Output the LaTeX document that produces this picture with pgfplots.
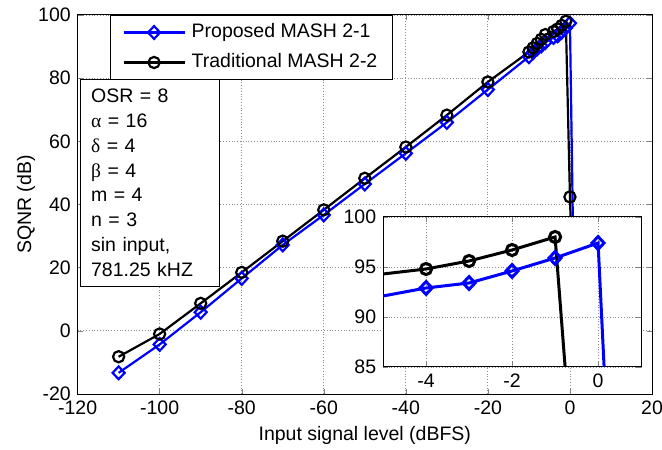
\documentclass[border=0pt]{standalone}
\usepackage{pgfplots}
\usepackage{pgfplotstable}
\pgfplotsset{compat=1.18}
\usepackage{fontspec}
\setmainfont{Liberation Sans}
\newfontfamily\greekfont{Liberation Serif}
\newcommand\fsz{\fontsize{9.75}{11.7}\selectfont}

\pgfplotstableread{
x y
-110 -13.3
-100 -4.3
-90 5.9
-80 16.6
-70 27.2
-60 36.7
-50 46.5
-40 56.2
-30 66.0
-20 76.4
-10 86.8
-9 88.1
-8 89.3
-7 90.2
-6 91.3
-4 92.9
-3 93.4
-2 94.6
-1 95.9
0 97.4
1 9.0
}\proposed

\pgfplotstableread{
x y
-110 -8.2
-100 -1.0
-90 8.7
-80 18.5
-70 28.4
-60 38.3
-50 48.3
-40 58.2
-30 68.3
-20 78.8
-10 88.3
-9 89.6
-8 91.0
-7 92.3
-6 93.8
-4 94.8
-3 95.6
-2 96.7
-1 98.0
0 42.4
1 0.0
}\traditional

\begin{document}
\fsz
\begin{tikzpicture}[font=\fsz]
\useasboundingbox (-38.8pt,-27.5pt) rectangle (292.2pt,197pt);
\pgfplotsset{
  common/.style={
    scale only axis,
    tick align=inside,
    tick pos=both,
    major tick length=2.5pt,
    grid=major,
    major grid style={densely dotted, black!45, line width=0.4pt},
    axis line style={line width=0.5pt},
    /pgf/number format/assume math mode=true,
    tick label style={font=\fsz},
    label style={font=\fsz},
    axis background/.style={fill=white},
  },
  propstyle/.style={blue, line width=#1, mark=diamond, mark size=3.2pt, mark options={solid, line width=#1, xscale=1.25}},
  tradstyle/.style={black, line width=#1, mark=o, mark size=2.8pt, mark options={solid, line width=#1}},
}
\begin{axis}[common,
  at={(0pt,0pt)}, anchor=south west,
  width=287.2pt, height=189.5pt,
  xmin=-120, xmax=20, ymin=-20, ymax=100,
  xtick={-120,-100,...,20}, ytick={-20,0,...,100},
  xlabel={Input signal level (dBFS)},
  ylabel={SQNR (dB)},
  xlabel style={at={(axis description cs:0.5,-0.1214)}, anchor=base},
  ylabel style={at={(axis description cs:-0.0898,0.5)}, anchor=center, rotate=0},
  legend cell align=left,
  legend image code/.code={
    \path (0pt,0pt) (32pt,0pt);
    \draw[mark repeat=2,mark phase=2,#1] plot coordinates {(1.5pt,0pt) (16.75pt,0pt) (32pt,0pt)};},
  legend style={at={(0.0564,1)}, anchor=north west, draw=black, line width=0.5pt,
    fill=white, inner xsep=4.5pt, inner ysep=2pt, row sep=2pt,
    nodes={inner xsep=3pt, inner ysep=2pt, text height=7pt, text depth=2pt, font=\fsz}},
]
\addplot[propstyle=1.1pt] table {\proposed};
\addlegendentry{Proposed MASH 2-1}
\addplot[tradstyle=1.1pt] table {\traditional};
\addlegendentry{Traditional MASH 2-2}
\node[draw=black, line width=0.5pt, fill=white, anchor=north west, align=left,
  text width=58.9pt, inner xsep=5.3pt, inner ysep=4.8pt,
  font=\fontsize{9.75}{12.4}\selectfont]
  at ([xshift=1.2pt,yshift=157.5pt]rel axis cs:0,0)
  {OSR = 8\\{\greekfont α} = 16\\{\greekfont δ} = 4\\{\greekfont β} = 4\\m = 4\\n = 3\\sin input,\\781.25 kHZ};
\end{axis}

\begin{axis}[common,
  at={(152.7pt,13.5pt)}, anchor=south west,
  width=129pt, height=75pt,
  xmin=-5, xmax=1, ymin=85, ymax=100,
  xtick={-4,-2,0}, ytick={85,90,95,100},
]
\addplot[propstyle=1.5pt] table {\proposed};
\addplot[tradstyle=1.5pt] table {\traditional};
\end{axis}
\end{tikzpicture}
\end{document}
